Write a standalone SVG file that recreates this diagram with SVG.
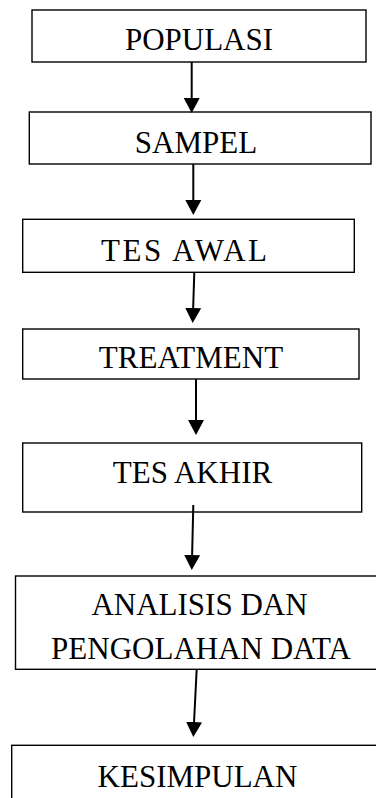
<svg xmlns="http://www.w3.org/2000/svg" width="376" height="798" viewBox="0 0 376 798">
<style>
.box{fill:#fff;stroke:#000;stroke-width:1.4}
.lbl{font-family:"Liberation Serif","Times New Roman",serif;font-size:31px;fill:#000;text-anchor:middle}
.arr{stroke:#000;stroke-width:2;fill:none;marker-end:url(#ah)}
</style>
<defs>
<marker id="ah" markerUnits="userSpaceOnUse" markerWidth="16" markerHeight="18" viewBox="0 -9 16 18" refX="5" refY="0" orient="auto">
<path d="M0,-8 L15,0 L0,8 z" fill="#000"/>
</marker>
</defs>
<rect width="376" height="798" fill="#fff"/>
<g id="n1"><rect class="box" x="32" y="10" width="334" height="52"/><text class="lbl" x="199" y="50">POPULASI</text></g>
<g id="n2"><rect class="box" x="29.3" y="112" width="341.7" height="52"/><text class="lbl" x="196" y="153">SAMPEL</text></g>
<g id="n3"><rect class="box" x="22.7" y="219.3" width="331.6" height="53"/><text class="lbl" x="184" y="261" textLength="166">TES AWAL</text></g>
<g id="n4"><rect class="box" x="22.7" y="329" width="336.3" height="50"/><text class="lbl" x="191" y="368">TREATMENT</text></g>
<g id="n5"><rect class="box" x="22.7" y="443" width="339" height="69"/><text class="lbl" x="192.5" y="483">TES AKHIR</text></g>
<g id="n6"><rect class="box" x="15.5" y="576" width="370" height="93.3"/><text class="lbl" x="199.5" y="615">ANALISIS DAN</text><text class="lbl" x="201" y="659">PENGOLAHAN DATA</text></g>
<g id="n7"><rect class="box" x="11.7" y="745.3" width="370" height="80"/><text class="lbl" x="197.5" y="787">KESIMPULAN</text></g>
<g id="edges">
<line class="arr" x1="191.7" y1="62" x2="191.7" y2="103"/>
<line class="arr" x1="193.3" y1="164" x2="193.3" y2="205"/>
<line class="arr" x1="194.3" y1="272" x2="193" y2="313"/>
<line class="arr" x1="196" y1="379" x2="196" y2="425"/>
<line class="arr" x1="193.3" y1="505" x2="192" y2="560"/>
<line class="arr" x1="196.7" y1="669" x2="193.8" y2="727"/>
</g>
</svg>
